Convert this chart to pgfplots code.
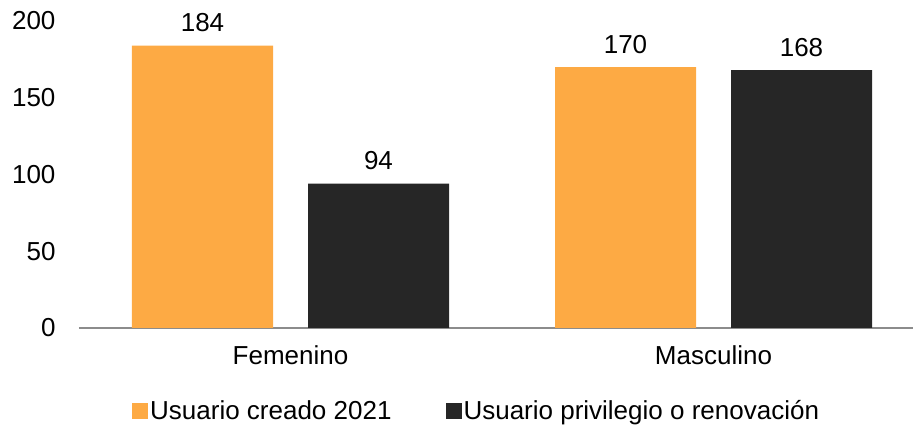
\documentclass[border=0pt]{standalone}
\usepackage{pgfplots}
\pgfplotsset{compat=1.18}
\usepackage{fontspec}
\setmainfont{Liberation Sans}
\usetikzlibrary{calc}
\definecolor{orangebar}{HTML}{FDAA44}
\definecolor{darkbar}{HTML}{262626}
\definecolor{axisgray}{HTML}{8C8C8C}
\begin{document}
\begin{tikzpicture}
\begin{axis}[
  name=ax,
  scale only axis,
  width=846pt, height=307pt,
  xmin=-0.5, xmax=1.5,
  ymin=0, ymax=200,
  xtick={0,1},
  xticklabels={Femenino,Masculino},
  ytick={0,50,100,150,200},
  major tick length=0pt,
  axis x line*=bottom,
  axis y line*=left,
  y axis line style={draw=none},
  x axis line style={draw=axisgray, line width=1.5pt, -},
  font=\fontsize{26}{30}\selectfont,
  ticklabel style={font=\fontsize{26}{30}\selectfont},
  yticklabel style={xshift=-20pt},
  xticklabel style={yshift=-14pt},
  /pgf/number format/assume math mode=true,
  clip=false,
  ybar,
  bar width=141pt,
  nodes near coords,
  nodes near coords style={font=\fontsize{26}{30}\selectfont, yshift=10pt},
  legend columns=2,
  legend style={at={(0.47,-0.27)}, anchor=center, draw=none, fill=none,
    font=\fontsize{26}{30}\selectfont,
    /tikz/every even column/.append style={column sep=52pt}},
  legend image code/.code={\fill[#1] (0pt,-8pt) rectangle (16pt,8pt);},
]
\addplot[fill=orangebar, draw=none, bar shift=-88pt] coordinates {(0,184) (1,170)};
\addplot[fill=darkbar, draw=none, bar shift=88pt] coordinates {(0,94) (1,168)};
\legend{Usuario creado 2021, Usuario privilegio o renovación}
\end{axis}
\pgfresetboundingbox
\path[use as bounding box] ($(ax.south west)+(-79pt,-99pt)$) rectangle ($(ax.south west)+(834pt,328pt)$);
\end{tikzpicture}
\end{document}
